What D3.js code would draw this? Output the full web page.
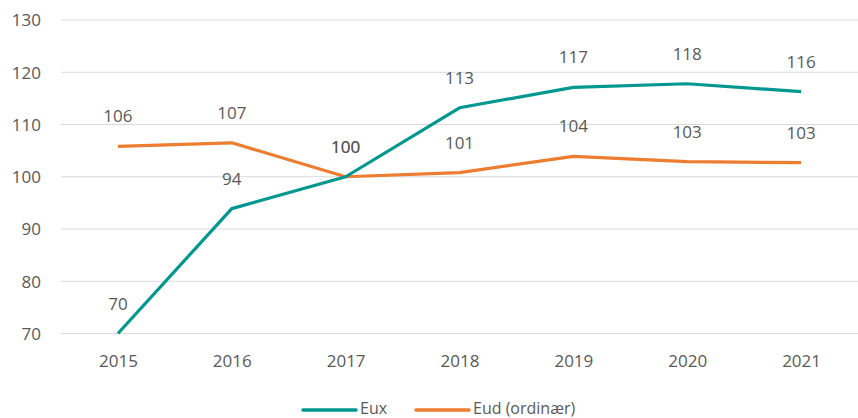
<!DOCTYPE html>
<html><head><meta charset="utf-8">
<script src="https://cdn.jsdelivr.net/npm/d3@7"></script>
<style>body{margin:0;background:#fff}svg{display:block}text{font-family:"Open Sans","Noto Sans",sans-serif;fill:#595959}</style>
</head><body><svg id="c" width="858" height="418"></svg>
<script>
const years = ["2015","2016","2017","2018","2019","2020","2021"];
const euxValues = [70, 93.9, 100, 113.2, 117.1, 117.8, 116.3];
const eudValues = [105.8, 106.5, 100, 100.8, 103.9, 102.9, 102.7];
const euxLabels = ["70","94","100","113","117","118","116"];
const eudLabels = ["106","107","100","101","104","103","103"];
const yTicks = [70, 80, 90, 100, 110, 120, 130];
const seriesNames = ["Eux", "Eud (ordinær)"];
const colors = ["#009790", "#ED7D31"];

const svg = d3.select("#c");
const x = d3.scalePoint().domain(years).range([61, 858]).padding(0.5);
const y = d3.scaleLinear().domain([70, 130]).range([333.5, 20]);

svg.append("g").selectAll("line").data(yTicks).join("line")
  .attr("x1", 61).attr("x2", 858).attr("y1", d => y(d)).attr("y2", d => y(d))
  .attr("stroke", "#D9D9D9").attr("stroke-width", 1.2);

const yAxis = d3.axisLeft(y).tickValues(yTicks).tickSize(0).tickPadding(0);
const gy = svg.append("g").attr("transform", "translate(41,0)").call(yAxis);
gy.select(".domain").remove();
gy.selectAll("text").attr("font-size", 17).attr("dy", "0.35em").style("fill", "#595959");

const xAxis = d3.axisBottom(x).tickSize(0).tickPadding(0);
const gx = svg.append("g").attr("transform", "translate(0,355)").call(xAxis);
gx.select(".domain").remove();
gx.selectAll("text").attr("font-size", 17).attr("dy", "0.71em").attr("y", 0).style("fill", "#595959");

const line = d3.line().x((d, i) => x(years[i])).y(d => y(d));
const series = [
  {vals: eudValues, labels: eudLabels, color: colors[1]},
  {vals: euxValues, labels: euxLabels, color: colors[0]}
];
series.forEach(s => {
  svg.append("path").attr("d", line(s.vals)).attr("fill", "none")
    .attr("stroke", s.color).attr("stroke-width", 3.2).attr("stroke-linejoin", "round");
});
series.forEach(s => {
  svg.append("g").selectAll("text").data(s.vals).join("text")
    .attr("x", (d, i) => x(years[i])).attr("y", d => y(d) - 24)
    .attr("text-anchor", "middle").attr("font-size", 17)
    .text((d, i) => s.labels[i]);
});

const leg = svg.append("g");
const legItems = [{name: seriesNames[0], color: colors[0], x: 303}, {name: seriesNames[1], color: colors[1], x: 416}];
legItems.forEach(l => {
  leg.append("line").attr("x1", l.x).attr("x2", l.x + 53).attr("y1", 410).attr("y2", 410)
    .attr("stroke", l.color).attr("stroke-width", 3.5).attr("stroke-linecap", "round");
  leg.append("text").attr("x", l.x + 57).attr("y", 414).attr("font-size", 16).text(l.name);
});
</script></body></html>
